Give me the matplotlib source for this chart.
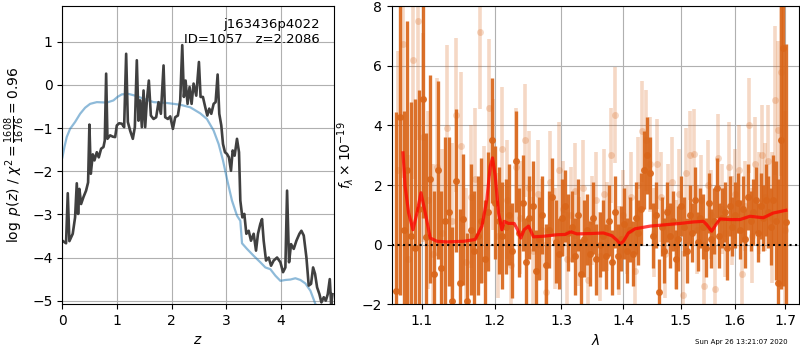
import numpy as np
import matplotlib
matplotlib.use('Agg')
import matplotlib.pyplot as plt
from matplotlib.ticker import FixedLocator, FixedFormatter, NullLocator

# --- redshift fit: log p(z) and prior ---
z_grid = [0.0, 0.067, 0.098, 0.128, 0.189, 0.232, 0.263, 0.287, 0.311, 0.342,
          0.385, 0.433, 0.470, 0.494, 0.519, 0.556, 0.586, 0.629, 0.665, 0.708,
          0.751, 0.775, 0.800, 0.824, 0.873, 0.922, 0.965, 0.995, 1.038, 1.087,
          1.129, 1.166, 1.197, 1.239, 1.288, 1.325, 1.361, 1.392, 1.422, 1.453,
          1.484, 1.514, 1.545, 1.581, 1.618, 1.667, 1.715, 1.758, 1.801, 1.850,
          1.880, 1.929, 1.972, 2.021, 2.063, 2.112, 2.155, 2.192, 2.222, 2.253,
          2.289, 2.326, 2.363, 2.399, 2.448, 2.497, 2.527, 2.570, 2.613, 2.650,
          2.686, 2.723, 2.766, 2.802, 2.839, 2.869, 2.906, 2.937, 2.973, 3.010,
          3.046, 3.083, 3.114, 3.150, 3.193, 3.230, 3.254, 3.291, 3.327, 3.364,
          3.407, 3.449, 3.498, 3.541, 3.577, 3.620, 3.651, 3.681, 3.724, 3.773,
          3.816, 3.864, 3.926, 3.987, 4.035, 4.078, 4.109, 4.145, 4.182, 4.231,
          4.280, 4.335, 4.371, 4.414, 4.463, 4.505, 4.548, 4.585, 4.621, 4.658,
          4.701, 4.737, 4.780, 4.817, 4.853, 4.890, 4.915, 4.939]
log_pz = [-3.61, -3.67, -2.51, -3.62, -3.45, -3.07, -2.28, -2.99, -2.41, -2.76,
          -2.60, -2.45, -2.26, -0.92, -2.06, -1.61, -1.75, -1.56, -1.68, -1.48,
          -1.44, -1.29, 0.26, -1.25, -1.17, -1.20, -1.21, -0.94, -0.89, -0.90,
          -0.98, 0.72, -0.86, -1.06, -1.25, -0.98, 0.57, -0.83, -0.36, -0.98,
          -0.13, -0.98, -0.36, 0.10, -0.71, -0.79, -0.75, -0.40, -0.67, 0.45,
          -0.75, -0.79, -0.73, -1.02, -0.75, -0.71, -0.36, 0.92, -0.28, 0.10,
          -0.44, -0.05, -0.44, 0.03, -0.25, 0.53, -0.28, -0.28, -0.52, -0.71,
          -0.55, -0.67, -0.44, -0.40, 0.24, -0.67, -0.94, -1.37, -1.56, -1.60,
          -1.68, -1.99, -1.52, -1.64, -1.25, -1.56, -2.68, -3.07, -2.99, -3.45,
          -3.38, -3.61, -3.45, -3.84, -3.45, -3.22, -3.11, -3.61, -4.07, -4.00,
          -4.19, -4.07, -4.00, -4.11, -4.34, -4.23, -2.45, -4.11, -3.69, -3.80,
          -3.61, -3.45, -3.38, -3.49, -4.00, -4.65, -4.61, -4.23, -4.38, -4.69,
          -4.85, -5.04, -4.92, -5.00, -4.85, -4.50, -5.08, -4.85]

z_prior = [0.0, 0.037, 0.079, 0.140, 0.232, 0.324, 0.415, 0.507, 0.629, 0.812,
           0.934, 1.007, 1.087, 1.209, 1.331, 1.484, 1.667, 1.911, 2.155, 2.338,
           2.521, 2.643, 2.766, 2.857, 2.937, 3.010, 3.101, 3.193, 3.254, 3.285,
           3.376, 3.498, 3.620, 3.712, 3.803, 3.895, 3.987, 4.078, 4.170, 4.261,
           4.353, 4.444, 4.536, 4.628, 4.670]
log_prior = [-1.68, -1.44, -1.21, -1.02, -0.86, -0.67, -0.53, -0.44, -0.40, -0.41,
             -0.36, -0.28, -0.22, -0.21, -0.25, -0.32, -0.40, -0.42, -0.46, -0.52,
             -0.66, -0.79, -1.06, -1.37, -1.75, -2.18, -2.68, -3.03, -3.15, -3.67,
             -3.80, -3.96, -4.11, -4.23, -4.27, -4.42, -4.54, -4.52, -4.51, -4.48,
             -4.52, -4.60, -4.77, -5.08, -5.27]

root = 'j163436p4022'
obj_id = 1057
z_best = 2.2086
chi2, dof = 1608, 1676

# --- 1D spectrum (G141), flux in 1e-19 units ---
wave_start, wave_step = 1.066, 0.005
flux = [-1.55, 4.3, 0.5, 2.5, 0.3, -0.1, 1.2, 4.9, 0.25, 2.2,
        -1.0, 2.5, -0.8, 0.8, 1.1, -1.9, 2.15, -1.3, 0.85, -1.9,
        0.5, -0.2, 0.3, 0.8, -0.5, 1.1, 3.5, 1.4, 0.8, 0.3,
        0.6, 1.0, -0.2, 2.8, 0.4, 1.4, -0.6, 0.9, 1.3, -0.9,
        0.2, 1.0, -0.7, 0.5, 1.6, 0.1, -0.3, 0.9, 1.3, 0.4,
        0.6, -0.4, 1.0, -1.0, 0.2, 0.5, -0.3, 0.9, -0.5, 0.0,
        0.3, -0.4, 0.8, -0.6, 1.1, -0.4, 0.2, 0.7, -0.2, 0.5,
        -0.3, 0.9, 0.4, 1.2, 2.5, 3.0, 2.4, 0.3, 1.0, -1.6,
        0.6, -0.2, 1.1, 0.3, 0.8, -0.5, 0.2, 1.3, 0.6, -0.2,
        1.0, 0.4, 1.5, 0.1, 0.9, 0.6, -0.1, 1.4, 0.2, 0.8,
        1.9, 0.3, 0.9, 1.1, -0.1, 1.3, 0.6, 1.0, 1.4, 0.5,
        1.2, 0.2, 1.6, 0.8, 1.1, 1.5, 0.4, 1.3, 0.9, 1.5,
        1.1, 0.6, 1.5, 0.8, -1.3, 3.5, 6.6, 0.75]
err = [6.0, 6.0, 4.0, 5.0, 4.5, 5.0, 4.0, 4.0, 3.5, 3.5,
       2.8, 3.0, 2.6, 2.8, 2.5, 2.5, 2.4, 2.5, 2.2, 2.3,
       2.2, 2.0, 2.0, 2.1, 2.0, 2.0, 2.1, 1.9, 1.8, 1.8,
       1.6, 1.7, 1.6, 1.7, 1.5, 1.6, 1.5, 1.4, 1.5, 1.4,
       1.4, 1.3, 1.4, 1.3, 1.3, 1.4, 1.2, 1.3, 1.2, 1.3,
       1.2, 1.3, 1.2, 1.2, 1.3, 1.2, 1.1, 1.2, 1.2, 1.1,
       1.2, 1.1, 1.2, 1.1, 1.2, 1.1, 1.1, 1.2, 1.1, 1.1,
       1.1, 1.2, 1.1, 1.2, 1.3, 1.3, 1.2, 1.1, 1.1, 1.1,
       1.0, 1.1, 1.0, 1.1, 1.0, 1.0, 1.1, 1.0, 1.0, 1.1,
       1.0, 1.0, 1.1, 1.0, 1.0, 1.1, 1.0, 1.0, 1.0, 1.1,
       1.0, 1.1, 1.0, 1.0, 1.1, 1.0, 1.0, 1.1, 1.0, 1.0,
       1.1, 1.0, 1.1, 1.0, 1.1, 1.1, 1.0, 1.1, 1.1, 1.2,
       1.2, 1.3, 1.5, 2.0, 3.5, 5.0, 8.0, 6.0]

# second beam, plotted faint
wave2_start, wave2_step = 1.0685, 0.0065
flux2 = [2.5, 6.75, -0.5, 6.2, 7.5, 3.6, 1.5, -0.3, 2.6, 0.4,
         3.9, 0.8, 4.35, 3.3, -0.6, 1.6, 2.2, 7.15, 1.0, 4.6,
         2.7, 0.3, 3.2, 1.5, -0.7, 2.6, 0.9, 3.5, 1.9, -0.2,
         1.7, 0.5, -1.6, 2.1, 0.2, 2.5, 1.2, -0.5, 1.0, 1.8,
         0.1, 1.9, -1.2, 0.8, 1.5, -0.4, 1.7, 0.6, 3.0, 4.35,
         -0.2, 1.0, 0.5, 1.6, -0.9, 2.0, 3.8, 3.5, 2.7, 0.4,
         2.7, 1.6, -0.3, 1.2, 2.1, 0.0, 1.7, -1.7, 2.4, 3.0,
         3.05, 0.5, 1.5, -1.4, 2.0, 1.0, -1.5, 2.9, 1.2, 0.4,
         2.6, 0.8, 1.7, 2.5, -1.0, 1.3, 4.0, 0.3, 2.7, 1.4,
         3.0, 1.6, 2.8, 0.9, 4.85, 3.85, 5.8, 0.5]
err2 = [4.0, 4.5, 3.5, 4.0, 4.0, 3.5, 3.0, 3.0, 3.0, 2.8,
        2.8, 2.6, 2.6, 2.5, 2.5, 2.4, 2.4, 2.6, 2.3, 2.3,
        2.2, 2.1, 2.1, 2.0, 2.0, 2.0, 1.9, 1.9, 1.9, 1.8,
        1.8, 1.7, 1.7, 1.7, 1.7, 1.6, 1.6, 1.6, 1.6, 1.6,
        1.5, 1.6, 1.5, 1.5, 1.6, 1.5, 1.5, 1.5, 1.6, 1.6,
        1.5, 1.5, 1.5, 1.5, 1.5, 1.6, 1.7, 1.7, 1.6, 1.5,
        1.5, 1.5, 1.5, 1.5, 1.5, 1.5, 1.5, 1.5, 1.5, 1.5,
        1.5, 1.5, 1.5, 1.5, 1.5, 1.5, 1.5, 1.5, 1.5, 1.5,
        1.5, 1.5, 1.5, 1.5, 1.5, 1.5, 1.6, 1.6, 1.6, 1.7,
        1.7, 1.8, 1.9, 2.2, 2.5, 3.0, 3.5, 4.0]

# best-fit template
model_wave = [1.0753, 1.078, 1.0826, 1.0882, 1.0934, 1.0987, 1.1044, 1.111, 1.120, 1.1334,
              1.1563, 1.1725, 1.182, 1.189, 1.1938, 1.1971, 1.201, 1.2058, 1.2106, 1.214,
              1.2203, 1.2286, 1.2335, 1.2384, 1.2434, 1.2499, 1.2574, 1.2725, 1.293, 1.306,
              1.3149, 1.3244, 1.3457, 1.3674, 1.3811, 1.3894, 1.3949, 1.4005, 1.4089, 1.4202,
              1.4459, 1.4692, 1.4989, 1.523, 1.5413, 1.5475, 1.5568, 1.563, 1.5724, 1.5913,
              1.6105, 1.6299, 1.6562, 1.6761, 1.7016]
model_flux = [3.08, 1.96, 1.06, 0.50, 1.06, 1.74, 1.06, 0.22, 0.11, 0.09,
              0.11, 0.17, 0.62, 1.51, 2.63, 2.91, 2.30, 1.06, 0.50, 0.78,
              0.71, 0.71, 0.50, 0.22, 0.50, 0.62, 0.26, 0.28, 0.33, 0.34,
              0.43, 0.36, 0.37, 0.39, 0.30, 0.15, 0.02, 0.11, 0.39, 0.53,
              0.62, 0.66, 0.71, 0.76, 0.78, 0.67, 0.45, 0.62, 0.86, 0.84,
              0.84, 0.95, 0.90, 1.06, 1.15]

wave = wave_start + wave_step * np.arange(len(flux))
wave2 = wave2_start + wave2_step * np.arange(len(flux2))

plt.rcParams['font.size'] = 10
fig = plt.figure(figsize=(8, 3.5), dpi=100)

# p(z) panel
ax = fig.add_axes([0.078, 0.131, 0.339, 0.851])
ax.plot(z_prior, log_prior, color='tab:blue', alpha=0.5, lw=1.6)
ax.plot(z_grid, log_pz, color='0.25', lw=1.9)
ymax = np.max(log_pz)
ax.set_ylim(ymax - 6, ymax + 0.9)
ax.set_xlim(0, 4.96)
ax.set_xticks([0, 1, 2, 3, 4])
ax.set_yticks([-5, -4, -3, -2, -1, 0, 1])
ax.grid(True)
ax.set_xlabel(r'$z$')
ax.set_ylabel(r'$\log\ p(z)$' + ' / ' +
              r'$\chi^2=\frac{%d}{%d}=%.2f$' % (chi2, dof, chi2 / dof))
ax.text(0.95, 0.96, '%s\nID=%d   z=%.4f' % (root, obj_id, z_best),
        ha='right', va='top', transform=ax.transAxes, fontsize=9.5)

# spectrum panel
orange = '#d9661a'
bx = fig.add_axes([0.49, 0.131, 0.509, 0.851])
bx.errorbar(wave2, flux2, yerr=err2, marker='o', linestyle='None',
            color=orange, alpha=0.25, ms=5, elinewidth=2.6, mec='none')
bx.errorbar(wave, flux, yerr=err, marker='o', linestyle='None',
            color=orange, alpha=0.92, ms=5, elinewidth=2.4, mec='none')
bx.plot(model_wave, model_flux, color='red', alpha=0.75, lw=2.3, zorder=5)
bx.axhline(0, color='k', linestyle=':', lw=1.5, zorder=6)

bx.set_xscale('log')
xt = [1.1, 1.2, 1.3, 1.4, 1.5, 1.6, 1.7]
bx.xaxis.set_major_locator(FixedLocator(xt))
bx.xaxis.set_major_formatter(FixedFormatter(['%.1f' % t for t in xt]))
bx.xaxis.set_minor_locator(NullLocator())
bx.set_xlim(1.0612, 1.729)
bx.set_ylim(-2, 8)
bx.set_yticks([-2, 0, 2, 4, 6, 8])
bx.grid(True)
bx.set_xlabel(r'$\lambda$')
bx.set_ylabel(r'$f_\lambda\times10^{-19}$')

fig.text(0.985, 0.015, 'Sun Apr 26 13:21:07 2020', ha='right', va='bottom',
         fontsize=5)

fig.savefig('out.png', dpi=100)
